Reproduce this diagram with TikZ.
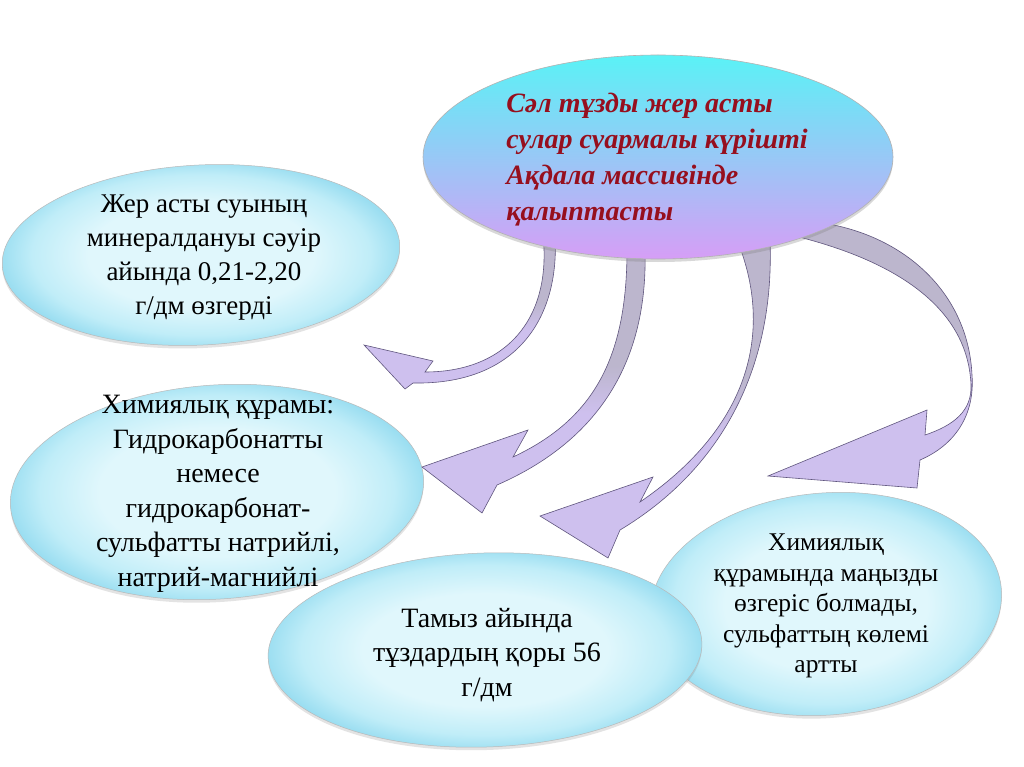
\documentclass[tikz,border=0pt]{standalone}
\usepackage{fontspec}
\setmainfont{Liberation Serif}
\usetikzlibrary{shapes.geometric,shadows}
\definecolor{bubedge}{RGB}{155,222,241}
\definecolor{bubmid}{RGB}{192,237,248}
\definecolor{bubin}{RGB}{224,247,252}
\definecolor{topc}{RGB}{90,242,246}
\definecolor{midc}{RGB}{150,215,246}
\definecolor{botc}{RGB}{214,158,246}
\definecolor{arrgray}{RGB}{188,182,205}
\definecolor{arrlav}{RGB}{206,192,238}
\definecolor{arrline}{RGB}{95,85,125}
\definecolor{titlered}{RGB}{150,15,30}
\pgfdeclareradialshading{bubshade}{\pgfpoint{0bp}{0bp}}{color(0bp)=(bubin); color(14bp)=(bubin); color(21bp)=(bubmid); color(25bp)=(bubedge); color(50bp)=(bubedge)}
\pgfdeclareverticalshading{arrshade}{100bp}{color(0bp)=(arrlav); color(44bp)=(arrlav); color(53bp)=(arrgray); color(100bp)=(arrgray)}
\begin{document}
\begin{tikzpicture}[x=1pt,y=-1pt,
  bubble/.style={ellipse, draw=gray!55, line width=0.5pt, inner sep=0pt,
    shading=bubshade,
    drop shadow={shadow xshift=0pt, shadow yshift=-3pt, opacity=0.22, fill=gray}},
  topbubble/.style={ellipse, draw=gray!60, line width=0.6pt, inner sep=0pt,
    top color=topc, middle color=midc, bottom color=botc,
    drop shadow={shadow xshift=0pt, shadow yshift=-3pt, opacity=0.3, fill=gray}},
  txt/.style={align=center, font=\fontsize{28}{34.5}\selectfont, text=black},
  smalltxt/.style={align=center, font=\fontsize{25.5}{30.5}\selectfont, text=black},
  titletxt/.style={align=left, font=\fontsize{28}{36}\selectfont\bfseries\itshape, text=titlered},
  arrowshape/.style={draw=arrline, line width=0.6pt, shading=arrshade, line join=miter}]
\useasboundingbox[fill=white] (0,0) rectangle (1024,767);

% bubbles
\node[bubble, minimum width=398, minimum height=180, rotate=3] (e1) at (201,255) {};
\node[bubble, minimum width=414, minimum height=214, rotate=4] (e2) at (217,492) {};
\node[bubble, minimum width=352, minimum height=222, rotate=5] (e4) at (826,604) {};
\node[bubble, minimum width=434, minimum height=194, rotate=2] (e3) at (485,650) {};

% curved block arrows
\path[arrowshape] (543,235) .. controls (552,320) and (505,372) .. (425,372)
  -- (433,361) -- (364,345) -- (405,389) -- (413,383)
  .. controls (515,385) and (560,320) .. (555,235) -- cycle;
\path[arrowshape] (627,250) .. controls (627,360) and (592,420) .. (513,457)
  -- (528,430) -- (422,467) -- (482,513) -- (497,485)
  .. controls (600,440) and (648,360) .. (645,250) -- cycle;
\path[arrowshape] (737,240) .. controls (770,320) and (760,420) .. (640,502)
  -- (653,477) -- (540,516) -- (608,558) -- (620,530)
  .. controls (720,470) and (775,370) .. (770,240) -- cycle;
\path[arrowshape] (795,236) .. controls (900,262) and (968,310) .. (971,385)
  .. controls (972,410) and (955,425) .. (925,435)
  -- (927,410) -- (768,476) -- (917,488) -- (920,460)
  .. controls (955,445) and (975,415) .. (972,375)
  .. controls (968,290) and (900,232) .. (815,222) -- cycle;

% top bubble
\node[topbubble, minimum width=470, minimum height=204] (e0) at (658,157) {};

% texts
\node[titletxt] (t0) at (e0.center) [xshift=-1pt, yshift=-3pt] {Сәл тұзды жер асты\\сулар суармалы күрішті\\Ақдала массивінде\\қалыптасты};
\node[txt, font=\fontsize{27}{34}\selectfont] (t1) at (204,258) {Жер асты суының\\минералдануы сәуір\\айында 0,21-2,20\\г/дм өзгерді};
\node[txt] (t2) at (218,494) {Химиялық құрамы:\\Гидрокарбонатты\\немесе\\гидрокарбонат-\\сульфатты натрийлі,\\натрий-магнийлі};
\node[txt] (t3) at (487,655) {Тамыз айында\\тұздардың қоры 56\\г/дм};
\node[smalltxt] (t4) at (826,606) {Химиялық\\құрамында маңызды\\өзгеріс болмады,\\сульфаттың көлемі\\артты};
\end{tikzpicture}
\end{document}
